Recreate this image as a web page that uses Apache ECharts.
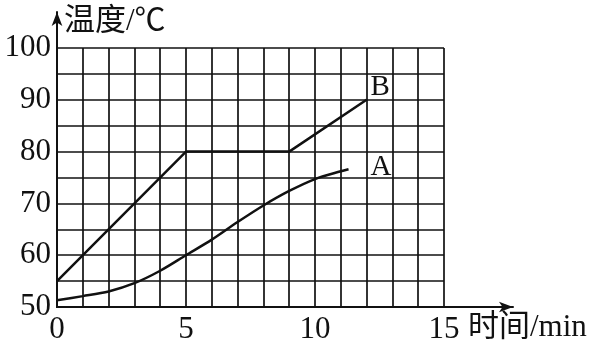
<!DOCTYPE html>
<html><head><meta charset="utf-8">
<script src="https://cdn.jsdelivr.net/npm/echarts@6/dist/echarts.min.js"></script>
<style>html,body{margin:0;padding:0;background:#fff}#c{width:607px;height:346px}</style>
</head><body><div id="c"></div>
<script>
const xLabels = ['0','5','10','15'];
const yLabels = ['50','60','70','80','90','100'];
const seriesB_x = [0, 5, 9, 12];
const seriesB_y = [55, 80, 80, 90];
const seriesA_x = [0, 1, 2, 3, 4, 5, 6, 7, 8, 9, 10, 11, 11.3];
const seriesA_y = [51.3, 52.1, 53, 54.6, 57, 60, 63, 66.4, 69.6, 72.4, 74.7, 76.2, 76.6];
const xName = '时间/min';
const yName = '温度/℃';

const FONT = "'Liberation Serif', 'Noto Sans CJK SC', serif";
const INK = '#111';
const chart = echarts.init(document.getElementById('c'), null, {renderer:'canvas'});
const zip = (xs, ys) => xs.map((x, i) => [x, ys[i]]);
chart.setOption({
  animation: false,
  backgroundColor: '#fff',
  grid: [
    {left: 57, right: 163, top: 48, bottom: 39},
    {left: 57, right: 94, top: 12, bottom: 39}
  ],
  xAxis: [
    {gridIndex: 0, type: 'value', min: 0, max: 15, interval: 1,
     axisLine: {show: true, lineStyle: {color: INK, width: 2}},
     axisTick: {show: false},
     splitLine: {show: true, lineStyle: {color: INK, width: 1.7}},
     axisLabel: {show: true, margin: 7, fontFamily: FONT, fontSize: 31, color: INK,
       formatter: v => xLabels.includes(String(v)) ? String(v) : ''},
     name: xName, nameLocation: 'end', nameGap: 24,
     nameTextStyle: {fontFamily: FONT, fontSize: 31, color: INK, align: 'left', verticalAlign: 'top', padding: [5,0,0,0]}
    },
    {gridIndex: 1, type: 'value', min: 0, max: 1,
     axisLine: {show: true, symbol: ['none','arrow'], symbolSize: [8, 14], lineStyle: {color: INK, width: 2}},
     axisTick: {show: false}, axisLabel: {show: false}, splitLine: {show: false}}
  ],
  yAxis: [
    {gridIndex: 0, type: 'value', min: 50, max: 100, interval: 5,
     axisLine: {show: true, lineStyle: {color: INK, width: 2}},
     axisTick: {show: false},
     splitLine: {show: true, lineStyle: {color: INK, width: 1.7}},
     axisLabel: {show: true, margin: 6, fontFamily: FONT, fontSize: 31, color: INK,
       formatter: v => yLabels.includes(String(v)) ? String(v) : ''},
     name: yName, nameLocation: 'end', nameGap: 26,
     nameTextStyle: {fontFamily: FONT, fontSize: 31, color: INK, align: 'left', verticalAlign: 'middle', padding: [0,0,0,7]}
    },
    {gridIndex: 1, type: 'value', min: 0, max: 1,
     axisLine: {show: true, symbol: ['none','arrow'], symbolSize: [8, 14], lineStyle: {color: INK, width: 2}},
     axisTick: {show: false}, axisLabel: {show: false}, splitLine: {show: false}}
  ],
  series: [
    {name: 'B', type: 'line', xAxisIndex: 0, yAxisIndex: 0, data: zip(seriesB_x, seriesB_y),
     showSymbol: false, lineStyle: {color: INK, width: 2.5},
     endLabel: {show: true, formatter: '{a}', fontFamily: FONT, fontSize: 29, color: INK, distance: 4, offset: [0, -12]}},
    {name: 'A', type: 'line', xAxisIndex: 0, yAxisIndex: 0, data: zip(seriesA_x, seriesA_y),
     smooth: 0.3, showSymbol: false, lineStyle: {color: INK, width: 2.5},
     endLabel: {show: true, formatter: '{a}', fontFamily: FONT, fontSize: 29, color: INK, distance: 22, offset: [0, -2]}}
  ]
});
</script></body></html>
